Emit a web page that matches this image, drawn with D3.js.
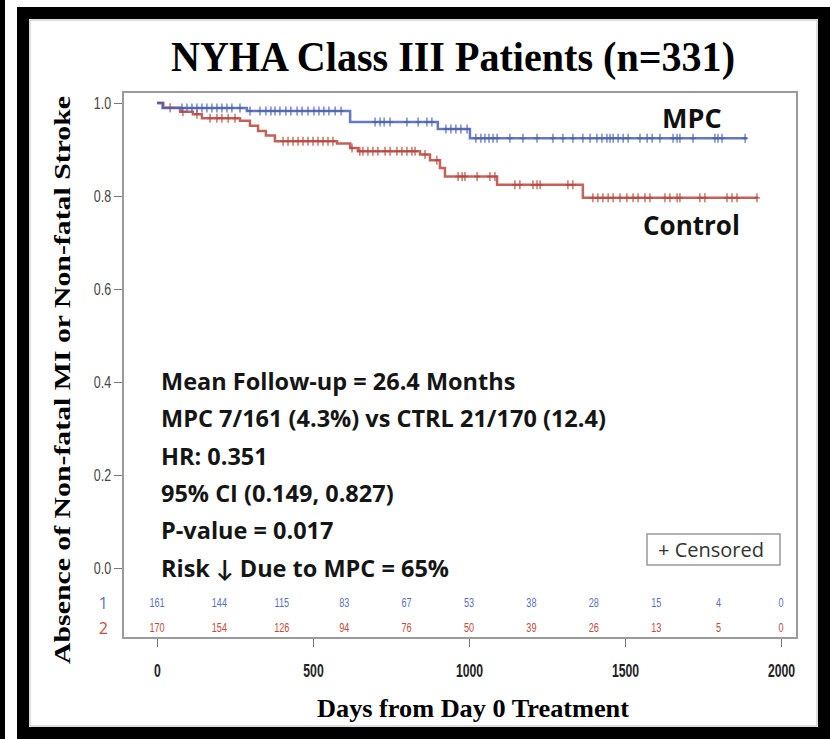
<!DOCTYPE html>
<html>
<head>
<meta charset="utf-8">
<script src="https://cdn.jsdelivr.net/npm/d3@7"></script>
<style>
  body { margin: 0; background: #fff; }
  svg { display: block; }
</style>
</head>
<body>
<script>
// Kaplan-Meier data (days, survival)
var mpcStepDays = [0, 18, 288, 619, 900, 1003];
var mpcStepSurv = [1.0, 0.989, 0.983, 0.959, 0.944, 0.924];
var mpcLastDay = 1891;

var ctrlStepDays = [0, 20, 74, 115, 144, 266, 298, 324, 349, 378, 577, 619, 644, 843, 875, 907, 923, 1090, 1365];
var ctrlStepSurv = [1.0, 0.990, 0.981, 0.976, 0.967, 0.962, 0.951, 0.940, 0.930, 0.918, 0.913, 0.903, 0.896, 0.889, 0.877, 0.860, 0.842, 0.824, 0.796];
var ctrlLastDay = 1926;

// censored observations (days)
var mpcCensored = [80, 96, 112, 128, 144, 160, 176, 192, 208, 224, 240, 266, 298, 330, 349, 365, 378, 394, 413, 429,
  449, 465, 484, 503, 519, 535, 551, 571, 590, 699, 715, 728, 747, 801, 837, 865, 881, 926, 942, 958, 974, 994,
  1022, 1038, 1051, 1064, 1077, 1090, 1131, 1173, 1218, 1269, 1301, 1333, 1365, 1388, 1410, 1426, 1442, 1452,
  1462, 1478, 1494, 1510, 1548, 1571, 1587, 1612, 1654, 1667, 1676, 1718, 1788, 1798, 1811, 1885];
var ctrlCensored = [42, 83, 128, 170, 192, 208, 228, 250, 404, 420, 436, 452, 468, 484, 500, 516, 532, 548, 564,
  625, 650, 660, 676, 692, 708, 731, 747, 769, 785, 801, 817, 827, 859, 897, 965, 978, 987, 1026, 1067, 1083,
  1147, 1163, 1205, 1218, 1228, 1317, 1333, 1397, 1413, 1429, 1446, 1462, 1484, 1506, 1526, 1542, 1564, 1580,
  1628, 1644, 1667, 1676, 1740, 1756, 1827, 1843, 1859, 1923];

// numbers at risk
var riskDays = [0, 200, 400, 600, 800, 1000, 1200, 1400, 1600, 1800, 2000];
var mpcAtRisk = [161, 144, 115, 83, 67, 53, 38, 28, 15, 4, 0];
var ctrlAtRisk = [170, 154, 126, 94, 76, 50, 39, 26, 13, 5, 0];

var yTicks = [0, 0.2, 0.4, 0.6, 0.8, 1.0];
var xTicks = [0, 500, 1000, 1500, 2000];

var statLines = [
  "Mean Follow-up = 26.4 Months",
  "MPC 7/161 (4.3%) vs CTRL 21/170 (12.4)",
  "HR: 0.351",
  "95% CI (0.149, 0.827)",
  "P-value = 0.017",
  "Risk \u2193 Due to MPC = 65%"
];

var blue = "#4a62b0", red = "#b9473c";
var blueTxt = "#5b6fc0", redTxt = "#c44a3c";
var serif = "'Liberation Serif', 'Times New Roman', serif";
var sans = "'Open Sans', 'Lato', sans-serif";
var plain = "'Liberation Sans', Arial, sans-serif";

var W = 830, H = 739;
var svg = d3.select("body").append("svg").attr("width", W).attr("height", H);

// outer frame
svg.append("rect").attr("x", 0).attr("y", 0).attr("width", W).attr("height", H).attr("fill", "#fff");
svg.append("rect").attr("x", 0).attr("y", 0).attr("width", 5).attr("height", H).attr("fill", "#000");
svg.append("rect").attr("x", 23).attr("y", 13).attr("width", 801).attr("height", 720)
  .attr("fill", "none").attr("stroke", "#000").attr("stroke-width", 12);
svg.append("rect").attr("x", 30).attr("y", 20).attr("width", 787).attr("height", 706)
  .attr("fill", "none").attr("stroke", "#bbb").attr("stroke-width", 1);

var x = d3.scaleLinear().domain([0, 2000]).range([157, 781]);
var y = d3.scaleLinear().domain([0, 1]).range([568, 103]);

// title
svg.append("text").attr("x", 453).attr("y", 71).attr("text-anchor", "middle")
  .attr("font-family", serif).attr("font-weight", "bold").attr("font-size", 42)
  .attr("textLength", 564).attr("lengthAdjust", "spacingAndGlyphs")
  .text("NYHA Class III Patients (n=331)");

// plot frame
svg.append("rect").attr("x", 123).attr("y", 92).attr("width", 674).attr("height", 546)
  .attr("fill", "none").attr("stroke", "#9a9a9a").attr("stroke-width", 2);

// y axis
var yAxis = d3.axisLeft(y).tickValues(yTicks).tickFormat(d3.format(".1f")).tickSize(8).tickPadding(3);
var gy = svg.append("g").attr("transform", "translate(122,0)").call(yAxis);
gy.select(".domain").remove();
gy.selectAll(".tick line").attr("stroke", "#777");
gy.selectAll(".tick text").attr("font-family", plain).attr("font-size", 16).attr("fill", "#444")
  .attr("x", -14).attr("transform", "scale(0.78,1)");

// x axis
var xAxis = d3.axisBottom(x).tickValues(xTicks).tickFormat(d3.format("d")).tickSize(8).tickPadding(17);
var gx = svg.append("g").attr("transform", "translate(0,639)").call(xAxis);
gx.select(".domain").remove();
gx.selectAll(".tick line").attr("stroke", "#777");
gx.selectAll(".tick text").attr("font-family", plain).attr("font-size", 18)
  .attr("fill", "#222").attr("font-weight", "bold").attr("transform", "scale(0.68,1)");

// axis titles
svg.append("text").attr("transform", "translate(70,380) rotate(-90)").attr("text-anchor", "middle")
  .attr("font-family", serif).attr("font-weight", "bold").attr("font-size", 23)
  .attr("textLength", 568).attr("lengthAdjust", "spacingAndGlyphs")
  .text("Absence of Non-fatal MI or Non-fatal Stroke");
svg.append("text").attr("x", 473).attr("y", 717).attr("text-anchor", "middle")
  .attr("font-family", serif).attr("font-weight", "bold").attr("font-size", 25)
  .attr("textLength", 312).attr("lengthAdjust", "spacingAndGlyphs")
  .text("Days from Day 0 Treatment");

// KM curves
function stepPoints(days, surv, last) {
  var pts = days.map(function (d, i) { return [d, surv[i]]; });
  pts.push([last, surv[surv.length - 1]]);
  return pts;
}
function survAt(days, surv, t) {
  var s = surv[0];
  for (var i = 0; i < days.length; i++) { if (days[i] <= t) s = surv[i]; }
  return s;
}
var line = d3.line().x(function (d) { return x(d[0]); }).y(function (d) { return y(d[1]); })
  .curve(d3.curveStepAfter);

var groups = [
  { days: ctrlStepDays, surv: ctrlStepSurv, last: ctrlLastDay, cens: ctrlCensored, color: red },
  { days: mpcStepDays, surv: mpcStepSurv, last: mpcLastDay, cens: mpcCensored, color: blue }
];
groups.forEach(function (g) {
  svg.append("path").datum(stepPoints(g.days, g.surv, g.last)).attr("d", line)
    .attr("fill", "none").attr("stroke", g.color).attr("stroke-width", 2.5).attr("opacity", 0.85);
  var marks = svg.append("g").selectAll("g").data(g.cens).enter().append("g")
    .attr("transform", function (d) { return "translate(" + x(d) + "," + y(survAt(g.days, g.surv, d)) + ")"; });
  marks.append("line").attr("x1", 0).attr("x2", 0).attr("y1", -4.5).attr("y2", 4.5)
    .attr("stroke", g.color).attr("stroke-width", 1.5).attr("opacity", 0.75);
  marks.append("line").attr("x1", -3).attr("x2", 3).attr("y1", 0).attr("y2", 0)
    .attr("stroke", g.color).attr("stroke-width", 1.5).attr("opacity", 0.75);
});

// group labels
svg.append("text").attr("x", 662).attr("y", 128).attr("font-family", sans).attr("font-weight", "bold")
  .attr("font-size", 27).attr("fill", "#111").text("MPC");
svg.append("text").attr("x", 643).attr("y", 235).attr("font-family", sans).attr("font-weight", "bold")
  .attr("font-size", 26).attr("fill", "#111").text("Control");

// stats block
svg.append("g").selectAll("text").data(statLines).enter().append("text")
  .attr("x", 161).attr("y", function (d, i) { return 390 + i * 37.3; })
  .attr("font-family", sans).attr("font-weight", "bold").attr("font-size", 23.5).attr("fill", "#151515")
  .text(function (d) { return d; });

// censored legend
svg.append("rect").attr("x", 647).attr("y", 534).attr("width", 133).attr("height", 31)
  .attr("fill", "#fff").attr("stroke", "#999").attr("stroke-width", 1.5);
svg.append("text").attr("x", 658).attr("y", 557).attr("font-family", sans).attr("font-size", 20)
  .attr("fill", "#333").text("+ Censored");

// numbers at risk
svg.append("text").attr("x", 108).attr("y", 609).attr("text-anchor", "end").attr("font-family", sans)
  .attr("font-size", 16).attr("fill", blueTxt).text("1");
svg.append("text").attr("x", 108).attr("y", 634).attr("text-anchor", "end").attr("font-family", sans)
  .attr("font-size", 16).attr("fill", redTxt).text("2");
function riskRow(counts, yPos, color) {
  svg.append("g").selectAll("text").data(riskDays).enter().append("text")
    .attr("transform", function (d) { return "translate(" + x(d) + "," + yPos + ") scale(0.7,1)"; })
    .attr("text-anchor", "middle").attr("font-family", plain).attr("font-size", 13).attr("fill", color)
    .text(function (d, i) { return counts[i]; });
}
riskRow(mpcAtRisk, 607, blueTxt);
riskRow(ctrlAtRisk, 632, redTxt);
</script>
</body>
</html>
